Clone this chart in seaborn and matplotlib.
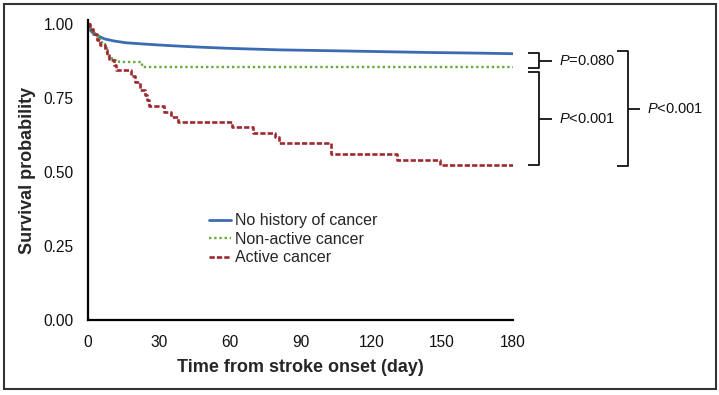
import matplotlib
matplotlib.use("Agg")
import matplotlib.pyplot as plt
import seaborn as sns
import pandas as pd
from matplotlib.patches import Rectangle

# ---- data ----
none_t = [0, 1, 2, 4, 7, 11, 16, 25, 33, 45, 60, 81, 103, 124, 145, 165, 180]
none_s = [1.0, 0.980, 0.972, 0.962, 0.951, 0.944, 0.938, 0.933, 0.929, 0.924,
          0.919, 0.914, 0.911, 0.908, 0.905, 0.903, 0.901]

nonactive_t = [0, 1, 2, 3, 5, 6, 7, 8, 9, 10, 13, 23, 180]
nonactive_s = [1.0, 0.985, 0.970, 0.960, 0.945, 0.935, 0.920, 0.905, 0.890,
               0.880, 0.872, 0.855, 0.853]

active_t = [0, 1, 2, 4, 5, 7, 8, 9, 11, 12, 18, 20, 22, 24, 25, 26, 32, 35,
            38, 61, 70, 79, 81, 103, 131, 149, 180]
active_s = [1.0, 0.983, 0.966, 0.949, 0.932, 0.915, 0.898, 0.881, 0.864,
            0.847, 0.825, 0.806, 0.779, 0.762, 0.745, 0.723, 0.703, 0.686,
            0.669, 0.652, 0.633, 0.619, 0.599, 0.561, 0.542, 0.524, 0.524]

labels = ["No history of cancer", "Non-active cancer", "Active cancer"]
x_ticks = [0, 30, 60, 90, 120, 150, 180]
y_ticks = [0.0, 0.25, 0.5, 0.75, 1.0]
p_texts = ["=0.080", "<0.001", "<0.001"]

# ---- style ----
sns.set_style("white")
plt.rcParams["font.family"] = ["Liberation Sans", "DejaVu Sans"]
plt.rcParams["mathtext.fontset"] = "custom"
plt.rcParams["mathtext.it"] = "Liberation Sans:italic"
plt.rcParams["mathtext.rm"] = "Liberation Sans"

fig = plt.figure(figsize=(7.19, 3.95), dpi=100)
ax = fig.add_axes([88 / 719, 75 / 395, 425 / 719, 300 / 395])

blue = "#3b6cb3"
green = "#69a93c"
red = "#9e2a30"

df_none = pd.DataFrame({"t": none_t, "s": none_s})
df_non = pd.DataFrame({"t": nonactive_t, "s": nonactive_s})
df_act = pd.DataFrame({"t": active_t, "s": active_s})

sns.lineplot(data=df_none, x="t", y="s", ax=ax, color=blue, lw=2.0,
             label=labels[0], estimator=None)
sns.lineplot(data=df_non, x="t", y="s", ax=ax, color=green, lw=1.7,
             linestyle=(0, (1.0, 1.2)), drawstyle="steps-post",
             label=labels[1], estimator=None)
sns.lineplot(data=df_act, x="t", y="s", ax=ax, color=red, lw=1.9,
             linestyle=(0, (2.0, 0.8)), drawstyle="steps-post",
             label=labels[2], estimator=None)

ax.set_xlim(0, 180)
ax.set_ylim(0, 1.015)
ax.set_xticks(x_ticks)
ax.set_xticklabels([str(v) for v in x_ticks])
ax.set_yticks(y_ticks)
ax.set_yticklabels([f"{v:.2f}" for v in y_ticks])
ax.tick_params(axis="both", direction="out", length=5, width=1.3,
               labelsize=11.2, color="black", labelcolor="#111111")
ax.tick_params(axis="y", pad=5.5)
ax.tick_params(axis="x", pad=6)
for side in ["top", "right"]:
    ax.spines[side].set_visible(False)
for side in ["left", "bottom"]:
    ax.spines[side].set_linewidth(1.6)
    ax.spines[side].set_color("black")

ax.set_xlabel("Time from stroke onset (day)", fontsize=13, fontweight="bold",
              labelpad=6)
ax.set_ylabel("Survival probability", fontsize=13, fontweight="bold",
              labelpad=5)

leg = ax.legend(loc="upper left", bbox_to_anchor=(0.285, 0.355), frameon=False,
                fontsize=11.5, handlelength=1.35, handletextpad=0.3,
                labelspacing=0.21, borderpad=0, borderaxespad=0)

# ---- significance brackets ----
def bracket(x0, x1, xt, y0, y1, txt):
    kw = dict(color="#111111", lw=1.3, clip_on=False, solid_capstyle="butt")
    ax.plot([x0, x1, x1, x0], [y0, y0, y1, y1], **kw)
    ym = (y0 + y1) / 2
    ax.plot([x1, xt], [ym, ym], **kw)
    ax.text(xt + 3, ym, "$P$" + txt, fontsize=10.5, va="center", ha="left",
            color="#111111", clip_on=False)

bracket(186.4, 191.0, 196.5, 0.902, 0.851, p_texts[0])
bracket(186.4, 191.0, 196.5, 0.839, 0.524, p_texts[1])
bracket(224.0, 228.7, 233.8, 0.909, 0.520, p_texts[2])

# figure border
fig.patches.append(Rectangle((3.5 / 719, 6 / 395), 712 / 719, 385 / 395,
                             transform=fig.transFigure, fill=False,
                             edgecolor="#333333", lw=1.5))

fig.savefig("out.png", dpi=100)
